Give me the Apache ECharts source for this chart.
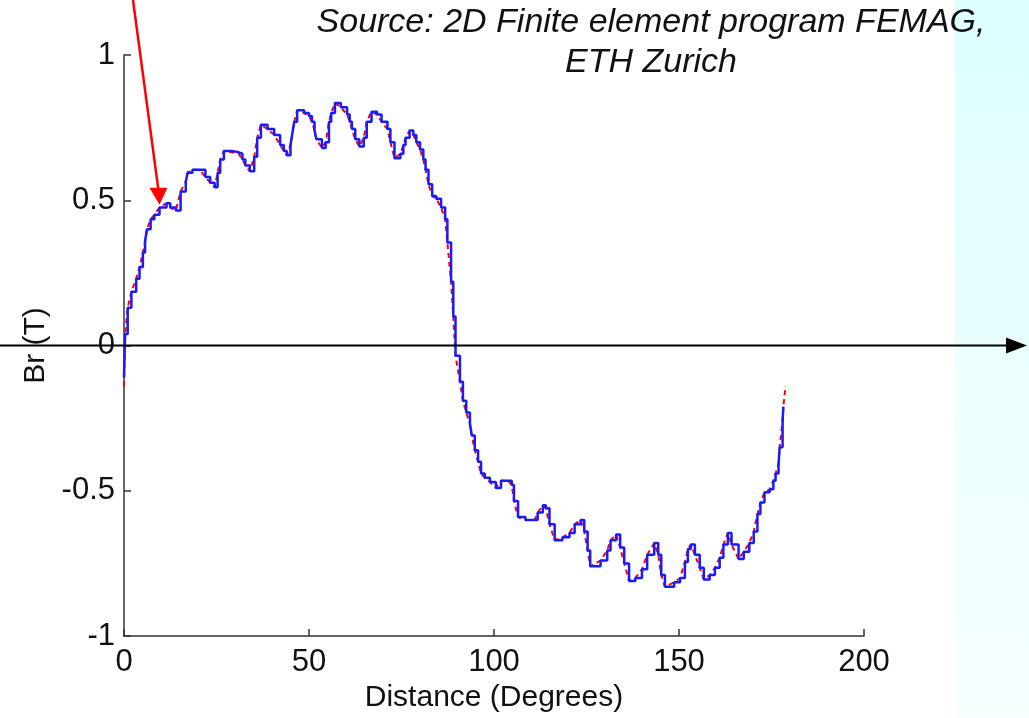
<!DOCTYPE html>
<html>
<head>
<meta charset="utf-8">
<script src="https://cdn.jsdelivr.net/npm/echarts@6/dist/echarts.min.js"></script>
<style>
  html, body { margin: 0; padding: 0; background: #fff; }
  #chart { width: 1029px; height: 718px; }
</style>
</head>
<body>
<div id="chart"></div>
<script>
// positions (degrees) where the stepped Br curve changes level
const degrees = [0, 0.3, 1, 2, 3.3, 4.2, 5.1, 5.7, 6.2, 7.2, 8.2, 9.6, 11.5, 12.5, 14, 15.3, 16.7, 17.2, 18.5, 20.5,
  22, 23.3, 24.5, 25.3, 26, 27, 29, 31, 32, 32.8, 34, 35.2, 36, 37, 38.8, 40.6, 42.2, 43.2, 44, 45,
  45.5, 46, 46.8, 48.7, 50, 50.8, 51.5, 52, 53.5, 54.5, 55.4, 56, 57, 58.6, 60.3, 61, 61.6, 62.5, 63.6, 64.8,
  65.6, 66.9, 68.4, 69.6, 71.2, 72, 73.1, 74.7, 75.5, 76.1, 77.2, 78.2, 79, 80, 80.9, 81.5, 82.3, 83.3, 84.4, 85.7,
  86.8, 87.4, 88.4, 89, 89.6, 90.8, 91.6, 92.5, 93.5, 94, 94.8, 95.7, 96.5, 97.5, 98.9, 100.5, 101.9, 103.8, 104.8, 105.4,
  106.5, 108.5, 111, 111.8, 113.2, 114, 115, 116.4, 118.5, 120.4, 121.8, 123.4, 124.4, 125.3, 126, 128.8, 130.6, 131.5, 133, 134.1,
  135.2, 136.5, 138.2, 140, 141.4, 143.3, 144.4, 145.2, 146.2, 148.7, 150.3, 151.6, 152.4, 153.2, 154.3, 155.6, 156.7, 158.3, 159.7, 161,
  162, 163.2, 164.2, 166.1, 167.5, 169, 170.2, 171.2, 172, 173.1, 174.5, 175.5, 176.1, 176.9, 177.2, 178, 178.2];
const brValues = [-0.11, 0.04, 0.13, 0.185, 0.23, 0.27, 0.32, 0.36, 0.40, 0.435, 0.45, 0.475, 0.49, 0.475, 0.465, 0.53, 0.565, 0.595, 0.605, 0.605,
  0.58, 0.56, 0.545, 0.595, 0.64, 0.67, 0.665, 0.66, 0.64, 0.62, 0.60, 0.65, 0.715, 0.76, 0.745, 0.725, 0.69, 0.67, 0.655, 0.69,
  0.73, 0.77, 0.81, 0.80, 0.79, 0.77, 0.74, 0.71, 0.68, 0.70, 0.77, 0.80, 0.835, 0.82, 0.795, 0.77, 0.745, 0.71, 0.685, 0.715,
  0.77, 0.805, 0.795, 0.77, 0.745, 0.70, 0.645, 0.66, 0.69, 0.715, 0.74, 0.725, 0.70, 0.675, 0.64, 0.605, 0.555, 0.515, 0.505, 0.475,
  0.435, 0.355, 0.22, 0.10, -0.035, -0.125, -0.19, -0.23, -0.27, -0.31, -0.36, -0.40, -0.44, -0.455, -0.47, -0.49, -0.465, -0.465, -0.48, -0.535,
  -0.59, -0.60, -0.60, -0.575, -0.55, -0.56, -0.615, -0.67, -0.66, -0.645, -0.615, -0.60, -0.64, -0.705, -0.76, -0.74, -0.705, -0.67, -0.65, -0.695,
  -0.75, -0.81, -0.80, -0.77, -0.72, -0.68, -0.72, -0.79, -0.83, -0.815, -0.80, -0.745, -0.70, -0.685, -0.72, -0.765, -0.805, -0.79, -0.765, -0.73,
  -0.685, -0.645, -0.685, -0.735, -0.71, -0.68, -0.64, -0.58, -0.54, -0.505, -0.495, -0.465, -0.44, -0.41, -0.35, -0.26, -0.21];
// FEM curve (red dashed) ends slightly beyond the stepped one
const femStart = [[0, -0.14]];
const femEnd = [[178.8, -0.14]];
const xTicks = [0, 50, 100, 150, 200];
const yTicks = [-1, -0.5, 0, 0.5, 1];

const stepData = degrees.map((d, i) => [d, brValues[i]]);
const femData = femStart.concat(stepData.slice(1), femEnd);

const FONT = '"Liberation Sans", Arial, sans-serif';
const chart = echarts.init(document.getElementById('chart'), null, { renderer: 'canvas' });

chart.setOption({
  backgroundColor: '#ffffff',
  animation: false,
  grid: { left: 124, right: 165, top: 55, bottom: 79 },
  xAxis: {
    type: 'value',
    min: xTicks[0], max: xTicks[xTicks.length - 1], interval: 50,
    name: 'Distance (Degrees)',
    nameLocation: 'middle',
    nameGap: 44,
    nameTextStyle: { fontFamily: FONT, fontSize: 30, color: '#111' },
    axisLine: { onZero: false, lineStyle: { color: '#333', width: 1.5 } },
    axisTick: { inside: true, length: 7, lineStyle: { color: '#333', width: 1.5 } },
    axisLabel: { fontFamily: FONT, fontSize: 31, color: '#111', margin: 11 },
    splitLine: { show: false }
  },
  yAxis: {
    type: 'value',
    min: yTicks[0], max: yTicks[yTicks.length - 1], interval: 0.5,
    name: 'Br (T)',
    nameLocation: 'middle',
    nameGap: 72,
    nameTextStyle: { fontFamily: FONT, fontSize: 30, color: '#111' },
    axisLine: { onZero: false, lineStyle: { color: '#333', width: 1.5 } },
    axisTick: { inside: true, length: 7, lineStyle: { color: '#333', width: 1.5 } },
    axisLabel: { fontFamily: FONT, fontSize: 31, color: '#111', margin: 9 },
    splitLine: { show: false }
  },
  series: [
    {
      name: 'FEM',
      type: 'line',
      data: femData,
      showSymbol: false,
      lineStyle: { color: '#ff0000', width: 2, type: [5, 4] },
      z: 2
    },
    {
      name: 'Stepped',
      type: 'line',
      step: 'end',
      data: stepData,
      showSymbol: false,
      lineStyle: { color: '#1a1aff', width: 2.5 },
      z: 3
    }
  ]
});

// annotations: zero-line arrow, red pointer, source text, cyan strip
const zeroY = chart.convertToPixel({ gridIndex: 0 }, [0, 0])[1];
const tip = chart.convertToPixel({ gridIndex: 0 }, [9.6, 0.485]);

chart.setOption({
  graphic: [
    {
      type: 'rect', z: -10, silent: true,
      shape: { x: 955, y: 0, width: 74, height: 718 },
      style: {
        fill: new echarts.graphic.LinearGradient(0, 0, 0, 1, [
          { offset: 0, color: '#ddffff' },
          { offset: 1, color: '#f7ffff' }
        ])
      }
    },
    {
      type: 'line', z: 100, silent: true,
      shape: { x1: 0, y1: zeroY, x2: 1008, y2: zeroY },
      style: { stroke: '#000', lineWidth: 2 }
    },
    {
      type: 'polygon', z: 100, silent: true,
      shape: { points: [[1006, zeroY - 8], [1027, zeroY], [1006, zeroY + 8]] },
      style: { fill: '#000' }
    },
    {
      type: 'line', z: 100, silent: true,
      shape: { x1: 133, y1: 0, x2: tip[0] - 1, y2: tip[1] - 14 },
      style: { stroke: '#ff0000', lineWidth: 2.5 }
    },
    {
      type: 'polygon', z: 100, silent: true,
      shape: { points: [[tip[0] - 10, tip[1] - 17], [tip[0] + 8, tip[1] - 17], [tip[0], tip[1]]] },
      style: { fill: '#ff0000' }
    },
    {
      type: 'text', z: 100, silent: true,
      style: {
        text: 'Source: 2D Finite element program FEMAG,\nETH Zurich',
        x: 651, y: 3,
        textAlign: 'center',
        font: 'italic 34px "Liberation Sans", Arial, sans-serif',
        lineHeight: 40,
        fill: '#111'
      }
    }
  ]
});
</script>
</body>
</html>
